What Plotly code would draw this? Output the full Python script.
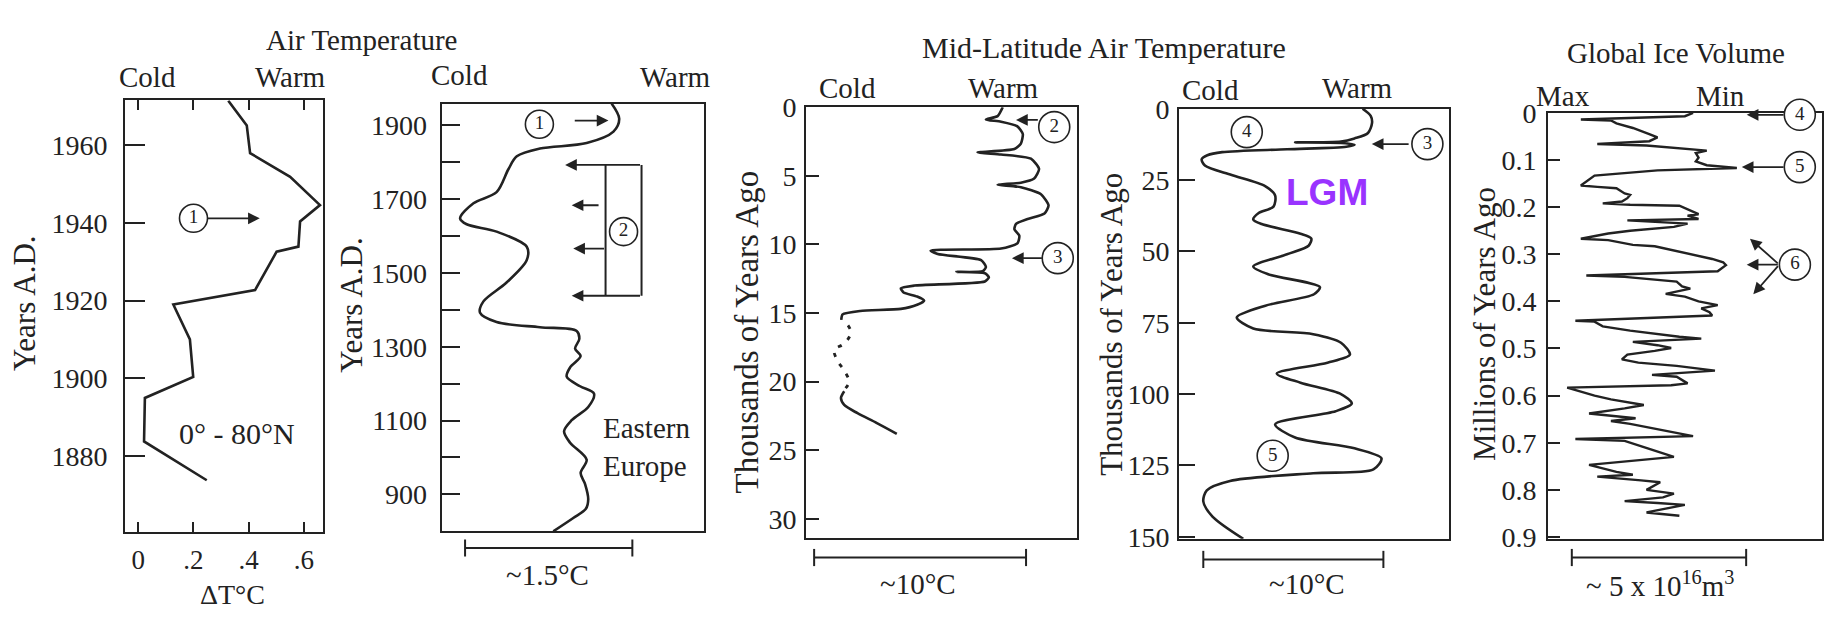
import plotly.graph_objects as go

W, H = 1828, 623
FONT = "Liberation Serif"
INK = "#222222"

# ---------------- data ----------------
# Panel 1: Air temperature anomaly 0-80N
p1_year = [1971.5, 1965.1, 1958.0, 1951.9, 1944.6, 1940.4, 1933.9, 1932.6, 1922.7, 1919.0, 1910.0, 1900.3, 1894.9, 1883.7, 1873.7]
p1_dT = [0.326, 0.393, 0.405, 0.550, 0.658, 0.586, 0.580, 0.501, 0.423, 0.127, 0.187, 0.199, 0.024, 0.021, 0.248]
p1_xticks = [0, 0.2, 0.4, 0.6]
p1_xticktext = ["0", ".2", ".4", ".6"]
p1_yticks = [1880, 1900, 1920, 1940, 1960]

# Panel 2: Eastern Europe air temperature (relative, cold=0 .. warm=1)
p2_year = [1959, 1918, 1883, 1852, 1837, 1816, 1781, 1719, 1689, 1648, 1632, 1612, 1571, 1535, 1474, 1423,
           1392, 1367, 1353, 1343, 1321, 1295, 1275, 1244, 1219, 1193, 1173, 1137, 1101, 1071, 1040, 994,
           958, 928, 887, 861, 836, 800]
p2_temp = [0.647, 0.676, 0.654, 0.552, 0.374, 0.286, 0.254, 0.209, 0.121, 0.070, 0.095, 0.209, 0.324, 0.324, 0.247, 0.159,
           0.146, 0.209, 0.374, 0.514, 0.524, 0.508, 0.529, 0.489, 0.476, 0.527, 0.580, 0.558, 0.495, 0.466, 0.489, 0.552,
           0.529, 0.546, 0.558, 0.549, 0.501, 0.425]
p2_yticks_major = [900, 1100, 1300, 1500, 1700, 1900]
p2_yticks_minor = [1000, 1200, 1400, 1600, 1800]

# Panel 3: Mid-latitude air temperature, last 30 kyr
p3a_kyr = [0.0, 0.65, 0.9, 1.06, 1.4, 1.95, 2.65, 3.05, 3.3, 3.45, 3.75, 4.5, 5.2, 5.5, 5.65, 5.83, 6.35, 7.15,
           7.75, 8.15, 8.5, 8.9, 9.35, 9.9, 10.3, 10.45, 10.7, 11.15, 11.65, 11.95, 12.0, 12.1, 12.4, 12.7,
           13.0, 13.2, 13.5, 13.8, 14.1, 14.4, 14.7, 14.85, 15.1, 15.5]
p3a_temp = [0.726, 0.707, 0.664, 0.72, 0.78, 0.80, 0.793, 0.769, 0.633, 0.72, 0.83, 0.86, 0.842, 0.793, 0.707, 0.793, 0.867, 0.895,
            0.88, 0.818, 0.775, 0.769, 0.787, 0.781, 0.72, 0.46, 0.486, 0.646, 0.664, 0.652, 0.555, 0.66, 0.675, 0.66,
            0.40, 0.35, 0.36, 0.41, 0.436, 0.41, 0.35, 0.20, 0.135, 0.13]
p3b_kyr = [15.9, 16.4, 16.9, 17.3, 17.7, 18.5, 19.2, 20.0, 20.5]
p3b_temp = [0.155, 0.166, 0.155, 0.135, 0.104, 0.117, 0.141, 0.159, 0.145]
p3c_kyr = [20.7, 21.2, 21.7, 22.3, 23.0, 23.8]
p3c_temp = [0.141, 0.129, 0.141, 0.19, 0.26, 0.335]
p3_yticks = [0, 5, 10, 15, 20, 25, 30]

# Panel 4: Mid-latitude air temperature, last 150 kyr
p4_kyr = [0, 2.5, 5, 8.5, 10.4, 11.5, 11.8, 12.0, 12.6, 13.3, 14.2, 15.2, 16.3, 17.7, 19.9, 23.2, 27.1, 30.4,
          34.3, 36.6, 38.8, 40.4, 43.8, 45.5, 48, 51, 55.3, 58, 62.5, 65, 69, 73.1, 77, 79, 82, 86.2, 89,
          92.8, 96, 100, 103.3, 106, 110.6, 115.2, 119, 122.5, 126.4, 127.7, 130.4, 133.7, 137.6, 142.9, 150.7]
p4_temp = [0.68, 0.71, 0.715, 0.70, 0.65, 0.60, 0.43, 0.60, 0.65, 0.62, 0.40, 0.16, 0.105, 0.084, 0.096, 0.195, 0.319, 0.356,
           0.35, 0.294, 0.275, 0.306, 0.45, 0.49, 0.48, 0.40, 0.275, 0.33, 0.522, 0.50, 0.32, 0.214, 0.275, 0.497, 0.60, 0.633, 0.55,
           0.362, 0.45, 0.60, 0.64, 0.58, 0.356, 0.43, 0.65, 0.75, 0.72, 0.497, 0.189, 0.103, 0.09, 0.124, 0.238]
p4_yticks = [0, 25, 50, 75, 100, 125, 150]

# Panel 5: Global ice volume, last 0.9 Myr (max=0 .. min=1)
p5_myr = [0.000, 0.007, 0.014, 0.016, 0.022, 0.032, 0.045, 0.052, 0.060, 0.066, 0.069, 0.076, 0.080, 0.085, 0.095,
          0.103, 0.111, 0.117, 0.122, 0.133, 0.154, 0.157, 0.160, 0.171, 0.174, 0.181, 0.188, 0.192, 0.195, 0.197,
          0.205, 0.215, 0.218, 0.225, 0.228, 0.232, 0.235, 0.242, 0.250, 0.256, 0.267, 0.270, 0.280, 0.283, 0.303,
          0.310, 0.317, 0.323, 0.336, 0.345, 0.348, 0.358, 0.368, 0.373, 0.384, 0.390, 0.400, 0.408, 0.415, 0.423,
          0.430, 0.441, 0.443, 0.453, 0.462, 0.475, 0.479, 0.486, 0.493, 0.499, 0.505, 0.513, 0.523, 0.530, 0.537,
          0.547, 0.556, 0.560, 0.574, 0.578, 0.583, 0.590, 0.600, 0.608, 0.620, 0.627, 0.638, 0.648, 0.654, 0.660,
          0.686, 0.692, 0.696, 0.713, 0.730, 0.747, 0.762, 0.768, 0.772, 0.780, 0.784, 0.800, 0.808, 0.816, 0.824,
          0.828, 0.832, 0.840, 0.848, 0.855]
p5_ice = [0.53, 0.50, 0.12, 0.23, 0.25, 0.31, 0.37, 0.40, 0.37, 0.18, 0.36, 0.52, 0.58, 0.54, 0.55,
          0.54, 0.58, 0.69, 0.40, 0.17, 0.12, 0.18, 0.25, 0.28, 0.30, 0.29, 0.27, 0.20, 0.30, 0.48,
          0.51, 0.55, 0.51, 0.55, 0.29, 0.45, 0.51, 0.46, 0.30, 0.22, 0.12, 0.22, 0.31, 0.39, 0.54,
          0.60, 0.64, 0.65, 0.62, 0.14, 0.28, 0.47, 0.49, 0.52, 0.43, 0.50, 0.55, 0.62, 0.56, 0.59,
          0.60, 0.10, 0.17, 0.20, 0.30, 0.48, 0.56, 0.31, 0.40, 0.45, 0.39, 0.29, 0.27, 0.33, 0.47,
          0.61, 0.38, 0.47, 0.51, 0.45, 0.07, 0.11, 0.17, 0.23, 0.35, 0.28, 0.15, 0.32, 0.23, 0.30,
          0.53, 0.10, 0.28, 0.37, 0.46, 0.15, 0.25, 0.31, 0.18, 0.34, 0.41, 0.36, 0.46, 0.42, 0.28,
          0.40, 0.50, 0.43, 0.36, 0.48]
p5_yticks = [0, 0.1, 0.2, 0.3, 0.4, 0.5, 0.6, 0.7, 0.8, 0.9]
p5_yticktext = ["0", "0.1", "0.2", "0.3", "0.4", "0.5", "0.6", "0.7", "0.8", "0.9"]

# numbered markers (panel, x, y, label)
markers = {
    1: ([0.20], [1941.2], ["1"]),
    2: ([0.372, 0.6925], [1903, 1612], ["1", "2"]),
    3: ([0.916, 0.929], [1.45, 11.0], ["2", "3"]),
    4: ([0.251, 0.92, 0.347], [8.2, 12.4, 121.6], ["4", "3", "5"]),
    5: ([0.92, 0.92, 0.902], [0.004, 0.115, 0.322], ["4", "5", "6"]),
}
# arrows: (panel, tail_x, tail_y, head_x, head_y)
arrows = [
    (1, 0.245, 1941.2, 0.44, 1941.2),
    (2, 0.501, 1913, 0.635, 1913),
    (2, 0.761, 1792.7, 0.47, 1792.7),
    (2, 0.603, 1683.5, 0.495, 1683.5),
    (2, 0.624, 1566, 0.501, 1566),
    (2, 0.761, 1438.3, 0.495, 1438.3),
    (3, 0.861, 0.93, 0.775, 0.93),
    (3, 0.876, 11.0, 0.76, 11.0),
    (4, 0.856, 12.4, 0.714, 12.4),
    (5, 0.866, 0.004, 0.726, 0.004),
    (5, 0.866, 0.115, 0.708, 0.115),
    (5, 0.845, 0.322, 0.738, 0.267),
    (5, 0.845, 0.322, 0.726, 0.322),
    (5, 0.845, 0.322, 0.750, 0.385),
]
bracket_x = [0.624, 0.624, None, 0.761, 0.761]
bracket_y = [1792.7, 1438.3, None, 1792.7, 1438.3]

# ---------------- layout geometry (pixels) ----------------
boxes = {1: (125, 323, 89.5, 542.5), 2: (441.7, 704.3, 92.9, 541.5), 3: (806, 1077, 96.7, 548.6),
         4: (1179, 1449, 98.3, 549.4), 5: (1548, 1821.7, 102.7, 549.4)}


def px(x):
    return x / W


def py(y):
    return 1 - y / H


fig = go.Figure()


def ax(n, kind):
    return kind if n == 1 else f"{kind}{n}"


LW = 2.6
fig.add_trace(go.Scatter(x=p1_dT, y=p1_year, mode="lines", line=dict(color=INK, width=LW), xaxis="x", yaxis="y"))
fig.add_trace(go.Scatter(x=p2_temp, y=p2_year, mode="lines", line=dict(color=INK, width=LW, shape="spline", smoothing=0.9),
                         xaxis="x2", yaxis="y2"))
fig.add_trace(go.Scatter(x=bracket_x, y=bracket_y, mode="lines", line=dict(color=INK, width=2), xaxis="x2", yaxis="y2"))
fig.add_trace(go.Scatter(x=p3a_temp, y=p3a_kyr, mode="lines", line=dict(color=INK, width=LW, shape="spline", smoothing=0.6),
                         xaxis="x3", yaxis="y3"))
fig.add_trace(go.Scatter(x=p3b_temp, y=p3b_kyr, mode="lines", line=dict(color=INK, width=2.8, dash="4px,8px", shape="spline"),
                         xaxis="x3", yaxis="y3"))
fig.add_trace(go.Scatter(x=p3c_temp, y=p3c_kyr, mode="lines", line=dict(color=INK, width=LW, shape="spline", smoothing=0.8),
                         xaxis="x3", yaxis="y3"))
fig.add_trace(go.Scatter(x=p4_temp, y=p4_kyr, mode="lines", line=dict(color=INK, width=LW, shape="spline", smoothing=0.8),
                         xaxis="x4", yaxis="y4"))
fig.add_trace(go.Scatter(x=p5_ice, y=p5_myr, mode="lines", line=dict(color=INK, width=2.4),
                         xaxis="x5", yaxis="y5"))

for n, (mx, my, mt) in markers.items():
    fig.add_trace(go.Scatter(x=mx, y=my, text=mt, mode="markers+text", cliponaxis=False,
                             marker=dict(symbol="circle", size=28 if n <= 2 else 31, color="white",
                                         line=dict(color=INK, width=1.6)),
                             textposition="middle center", textfont=dict(family=FONT, size=19, color=INK),
                             xaxis=ax(n, "x"), yaxis=ax(n, "y")))

# axes
yranges = {1: [1860.3, 1971.6], 2: [800, 1959], 3: [31.4, 0], 4: [150.7, 0], 5: [0.904, 0]}
ytickv = {1: p1_yticks, 2: p2_yticks_major, 3: p3_yticks, 4: p4_yticks, 5: p5_yticks}
ytickt = {1: [str(v) for v in p1_yticks], 2: [str(v) for v in p2_yticks_major], 3: [str(v) for v in p3_yticks],
          4: [str(v) for v in p4_yticks], 5: p5_yticktext}
yticklen = {1: 20, 2: 18, 3: 13, 4: 16, 5: 12}
ystand = {1: 10, 2: 7, 3: 2, 4: 2, 5: 4}
xranges = {1: [-0.048, 0.669], 2: [0, 1], 3: [0, 1], 4: [0, 1], 5: [0, 1]}

layout = dict(width=W, height=H, margin=dict(l=0, r=0, t=0, b=0), autosize=False,
              paper_bgcolor="white", plot_bgcolor="white", showlegend=False)
for n, (l, r, t, b) in boxes.items():
    xa = dict(domain=[px(l), px(r)], range=xranges[n], anchor=ax(n, "y"), showline=True, linecolor=INK,
              linewidth=2, mirror=True, showgrid=False, zeroline=False, layer="below traces")
    if n == 1:
        xa.update(tickvals=p1_xticks, ticktext=p1_xticktext, ticks="inside", ticklen=10, tickwidth=2,
                  tickcolor=INK, mirror="ticks", ticklabelstandoff=2,
                  tickfont=dict(family=FONT, size=27, color=INK))
    else:
        xa.update(showticklabels=False, ticks="")
    ya = dict(domain=[py(b), py(t)], range=yranges[n], anchor=ax(n, "x"), showline=True, linecolor=INK,
              linewidth=2, mirror=True, showgrid=False, zeroline=False, tickvals=ytickv[n], ticktext=ytickt[n],
              ticks="inside", ticklen=yticklen[n], tickwidth=2, tickcolor=INK, ticklabelstandoff=ystand[n],
              tickfont=dict(family=FONT, size=28, color=INK), layer="below traces")
    if n == 2:
        ya["minor"] = dict(tickvals=p2_yticks_minor, ticks="inside", ticklen=18, tickwidth=2, tickcolor=INK,
                           showgrid=False)
    layout["xaxis" if n == 1 else f"xaxis{n}"] = xa
    layout["yaxis" if n == 1 else f"yaxis{n}"] = ya
fig.update_layout(**layout)

# arrows
for (n, tx, ty, hx, hy) in arrows:
    fig.add_annotation(x=hx, y=hy, ax=tx, ay=ty, xref=ax(n, "x"), yref=ax(n, "y"), axref=ax(n, "x"),
                       ayref=ax(n, "y"), text="", showarrow=True, arrowhead=2, arrowsize=1.3,
                       arrowwidth=1.8, arrowcolor=INK, standoff=0, startstandoff=0)

# scale bars (panel, x0, x1, y_pixel)
scalebars = [(2, 0.089, 0.726, 559), (3, 0.03, 0.812, 569), (4, 0.09, 0.757, 571), (5, 0.087, 0.724, 569)]
for (n, x0, x1, yp) in scalebars:
    xr = ax(n, "x")
    fig.add_shape(type="line", xref=xr, yref="paper", x0=x0, x1=x1, y0=py(yp), y1=py(yp),
                  line=dict(color=INK, width=2))
    for xe in (x0, x1):
        fig.add_shape(type="line", xref=xr, yref="paper", x0=xe, x1=xe, y0=py(yp - 9), y1=py(yp + 9),
                      line=dict(color=INK, width=2))

# text labels (text, x_px, y_px, size, angle)
texts = [
    ("Air Temperature", 362, 26, 29, 0),
    ("Mid-Latitude Air Temperature", 1104, 34, 30, 0),
    ("Global Ice Volume", 1676, 40, 29, 0),
    ("Cold", 147, 65, 29, 0), ("Warm", 290, 65, 29, 0),
    ("Cold", 460, 63, 29, 0), ("Warm", 675, 65, 29, 0),
    ("Cold", 847, 77, 29, 0), ("Warm", 1003, 77, 29, 0),
    ("Cold", 1210, 79, 29, 0), ("Warm", 1357, 77, 29, 0),
    ("Max", 1563, 85, 29, 0), ("Min", 1720, 85, 29, 0),
    ("Years A.D.", 25, 302, 31, -90),
    ("Years A.D.", 352, 304, 31, -90),
    ("Thousands of Years Ago", 747, 333, 33, -90),
    ("Thousands of Years Ago", 1112, 325, 31, -90),
    ("Millions of Years Ago", 1485, 324, 31, -90),
    ("\u0394T\u00b0C", 233, 608, 28, 0),
    ("~1.5\u00b0C", 547, 587, 29, 0),
    ("~10\u00b0C", 918, 597, 29, 0),
    ("~10\u00b0C", 1307, 597, 29, 0),
    ("~ 5 x 10<sup>16</sup>m<sup>3</sup>", 1660, 597, 29, 0),
]
for (t, x, y, s, a) in texts:
    fig.add_annotation(x=px(x), y=py(y), xref="paper", yref="paper", text=t, showarrow=False,
                       xanchor="center", yanchor="middle", textangle=a,
                       font=dict(family=FONT, size=s, color=INK))

# in-panel labels
fig.add_annotation(x=0.356, y=1885.8, xref="x", yref="y", text="0\u00b0 - 80\u00b0N", showarrow=False,
                   font=dict(family=FONT, size=30, color=INK))
fig.add_annotation(x=0.778, y=1029, xref="x2", yref="y2", text="Eastern<br>Europe", showarrow=False,
                   align="left", font=dict(family=FONT, size=29, color=INK))
fig.add_annotation(x=0.548, y=29.3, xref="x4", yref="y4", text="<b>LGM</b>", showarrow=False,
                   font=dict(family="Liberation Sans", size=37, color="#9933FF"))

fig.write_html("out.html", include_plotlyjs=True, full_html=True, config={"displayModeBar": False},
               post_script="document.body.style.margin='0';document.body.style.overflow='hidden';")
